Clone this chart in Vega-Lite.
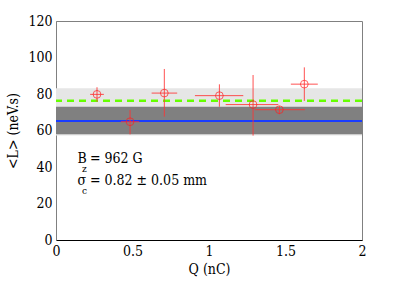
{
  "$schema": "https://vega.github.io/schema/vega-lite/v6.json",
  "width": 306,
  "height": 219,
  "autosize": "none",
  "padding": {"left": 56, "top": 21, "right": 37, "bottom": 42},
  "background": "white",
  "config": {
    "view": {"stroke": "#808080", "strokeWidth": 1}
  },
  "datasets": {
    "pts": [
      {"q": 0.268, "l": 79.8, "qlo": 0.223, "qhi": 0.313, "llo": 75.8, "lhi": 83.7},
      {"q": 0.484, "l": 64.8, "qlo": 0.424, "qhi": 0.544, "llo": 57.9, "lhi": 71.2},
      {"q": 0.708, "l": 80.5, "qlo": 0.625, "qhi": 0.792, "llo": 67.6, "lhi": 93.7},
      {"q": 1.068, "l": 79.1, "qlo": 0.908, "qhi": 1.224, "llo": 73.0, "lhi": 85.3},
      {"q": 1.288, "l": 74.2, "qlo": 1.109, "qhi": 1.453, "llo": 57.2, "lhi": 90.4},
      {"q": 1.46, "l": 71.4, "qlo": 1.30, "qhi": 1.627, "llo": 68.9, "lhi": 73.4},
      {"q": 1.623, "l": 85.4, "qlo": 1.535, "qhi": 1.711, "llo": 76.2, "lhi": 94.6}
    ]
  },
  "layer": [
    {
      "data": {"values": [{"x0": 0, "x1": 2, "y0": 57.2, "y1": 83.1}]},
      "mark": {"type": "rect", "color": "#e6e6e6"},
      "encoding": {
        "x": {"field": "x0", "type": "quantitative", "scale": {"domain": [0, 2], "nice": false},
          "axis": {"values": [0, 0.5, 1, 1.5, 2], "format": "~g", "title": "Q (nC)", "grid": false, "labelOverlap": false,
            "labelFont": "DejaVu Serif Condensed, DejaVu Serif", "titleFont": "DejaVu Serif Condensed, DejaVu Serif", "labelFontSize": 14, "titleFontSize": 14, "titleFontWeight": "normal", "labelColor": "black", "titleColor": "black",
            "domainColor": "black", "ticks": false, "labelPadding": 4, "titlePadding": 4, "labelFlush": false}},
        "x2": {"field": "x1"},
        "y": {"field": "y0", "type": "quantitative", "scale": {"domain": [0, 120], "nice": false},
          "axis": {"values": [0, 20, 40, 60, 80, 100, 120], "tickCount": 7, "title": "<L> (neV.s)", "grid": false, "labelOverlap": false, "labelSeparation": 0, "labelBound": false,
            "labelFont": "DejaVu Serif Condensed, DejaVu Serif", "titleFont": "DejaVu Serif Condensed, DejaVu Serif", "labelFontSize": 14, "titleFontSize": 14, "titleFontWeight": "normal", "labelColor": "black", "titleColor": "black",
            "domainColor": "#808080", "ticks": false, "labelPadding": 4, "titlePadding": 7, "labelFlush": false}},
        "y2": {"field": "y1"}
      }
    },
    {
      "data": {"values": [{"x0": 0, "x1": 2, "y0": 58.0, "y1": 73.0}]},
      "mark": {"type": "rect", "color": "#808080"},
      "encoding": {
        "x": {"field": "x0", "type": "quantitative"},
        "x2": {"field": "x1"},
        "y": {"field": "y0", "type": "quantitative"},
        "y2": {"field": "y1"}
      }
    },
    {
      "data": {"values": [{"y": 65.2}]},
      "mark": {"type": "rule", "color": "#1a3cff", "strokeWidth": 2},
      "encoding": {"y": {"field": "y", "type": "quantitative"}}
    },
    {
      "data": {"values": [{"y": 76.3}]},
      "mark": {"type": "rule", "color": "#66ff00", "strokeWidth": 2.5, "strokeDash": [7, 5]},
      "encoding": {"y": {"field": "y", "type": "quantitative"}}
    },
    {
      "data": {"name": "pts"},
      "mark": {"type": "rule", "color": "#ff3333", "strokeWidth": 1, "opacity": 0.85},
      "encoding": {
        "x": {"field": "qlo", "type": "quantitative"},
        "x2": {"field": "qhi"},
        "y": {"field": "l", "type": "quantitative"}
      }
    },
    {
      "data": {"name": "pts"},
      "mark": {"type": "rule", "color": "#ff3333", "strokeWidth": 1, "opacity": 0.85},
      "encoding": {
        "x": {"field": "q", "type": "quantitative"},
        "y": {"field": "llo", "type": "quantitative"},
        "y2": {"field": "lhi"}
      }
    },
    {
      "data": {"name": "pts"},
      "mark": {"type": "point", "shape": "circle", "filled": false, "color": "#ff2020", "size": 60, "strokeWidth": 1},
      "encoding": {
        "x": {"field": "q", "type": "quantitative"},
        "y": {"field": "l", "type": "quantitative"}
      }
    },
    {
      "data": {"values": [
        {"q": 0.14, "l": 42.0, "t": "B"},
        {"q": 0.222, "l": 42.0, "t": "= 962 G"},
        {"q": 0.14, "l": 29.9, "t": "σ"},
        {"q": 0.222, "l": 29.9, "t": "= 0.82 ± 0.05 mm"}
      ]},
      "mark": {"type": "text", "align": "left", "baseline": "alphabetic", "fontSize": 14, "font": "DejaVu Serif Condensed, DejaVu Serif", "color": "black"},
      "encoding": {
        "x": {"field": "q", "type": "quantitative"},
        "y": {"field": "l", "type": "quantitative"},
        "text": {"field": "t"}
      }
    },
    {
      "data": {"values": [
        {"q": 0.17, "l": 37.0, "t": "z"},
        {"q": 0.17, "l": 25.0, "t": "c"}
      ]},
      "mark": {"type": "text", "align": "left", "baseline": "alphabetic", "fontSize": 10, "font": "DejaVu Serif Condensed, DejaVu Serif", "color": "black"},
      "encoding": {
        "x": {"field": "q", "type": "quantitative"},
        "y": {"field": "l", "type": "quantitative"},
        "text": {"field": "t"}
      }
    }
  ]
}
